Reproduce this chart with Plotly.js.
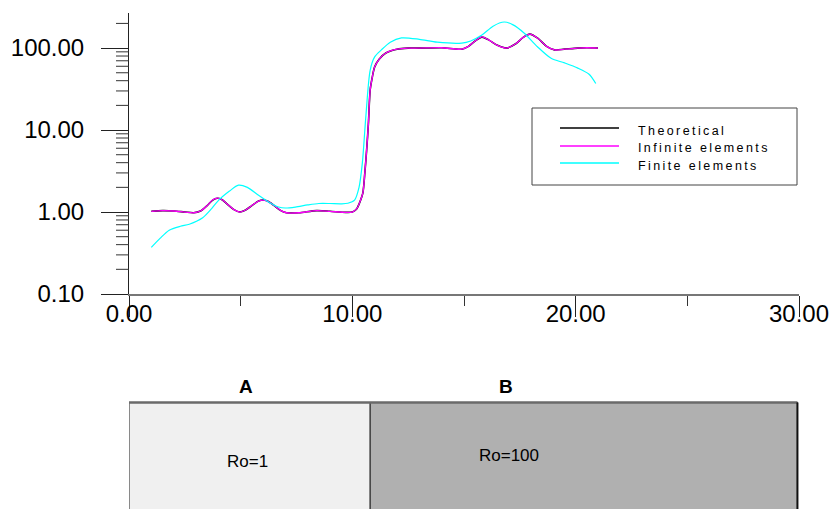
<!DOCTYPE html>
<html>
<head>
<meta charset="utf-8">
<script src="https://cdn.plot.ly/plotly-3.0.1.min.js"></script>
<style>html,body{margin:0;padding:0;background:#fff;}#chart{width:834px;height:509px;}</style>
</head>
<body>
<div id="chart"></div>
<script>
// ---- Data ----
var xTheo = [1, 1.5, 2, 2.5, 2.9, 3.2, 3.5, 3.75, 3.95, 4.15, 4.4, 4.7, 4.96, 5.2, 5.5, 5.8, 6.0, 6.2, 6.5, 6.8, 7.05, 7.6, 8.4, 9.0, 9.7, 10.0, 10.2, 10.35, 10.47, 10.56, 10.64, 10.72, 10.8, 10.9, 11.0, 11.2, 11.5, 12.0, 12.5, 13.0, 14.0, 14.9, 15.2, 15.5, 15.8, 16.1, 16.5, 16.9, 17.3, 17.65, 17.95, 18.3, 18.7, 19.05, 19.5, 20.1, 20.5, 21.0];
var yTheo = [1.02, 1.04, 1.03, 1.0, 0.98, 1.03, 1.2, 1.40, 1.47, 1.42, 1.25, 1.07, 1.0, 1.05, 1.2, 1.36, 1.40, 1.36, 1.2, 1.04, 0.98, 0.98, 1.04, 1.02, 0.99, 1.0, 1.1, 1.35, 1.7, 3.0, 5.7, 12, 31, 45, 59, 73, 87, 97, 100, 100, 101, 97, 105, 122, 136, 126, 108, 100, 112, 135, 148, 132, 105, 95, 97, 100, 101, 100];

var xInf = xTheo.slice();
var yInf = [1.02, 1.04, 1.03, 1.0, 0.98, 1.03, 1.2, 1.41, 1.48, 1.42, 1.25, 1.07, 1.0, 1.05, 1.2, 1.36, 1.40, 1.36, 1.2, 1.04, 0.98, 0.98, 1.04, 1.02, 0.99, 1.0, 1.1, 1.35, 1.7, 3.0, 5.7, 12, 31, 45, 59, 73, 87, 97, 100, 100, 101, 97, 105, 122, 137, 126, 108, 100, 112, 135, 148, 132, 105, 95, 97, 100, 101, 100];

var xFin = [1, 1.4, 1.8, 2.3, 2.7, 3.3, 3.7, 4.0, 4.5, 4.9, 5.3, 5.8, 6.3, 6.7, 7.0, 7.45, 8.0, 8.5, 9.0, 9.5, 9.8, 10.1, 10.3, 10.45, 10.6, 10.8, 11.0, 11.3, 11.7, 12.2, 13.0, 13.8, 14.9, 15.3, 15.8, 16.3, 16.8, 17.2, 17.7, 18.3, 18.9, 19.5, 20.1, 20.6, 20.9];
var yFin = [0.37, 0.48, 0.60, 0.67, 0.71, 0.85, 1.1, 1.38, 1.8, 2.13, 2.0, 1.6, 1.3, 1.15, 1.12, 1.15, 1.22, 1.27, 1.27, 1.26, 1.28, 1.4, 2.0, 4.0, 14, 54, 78, 95, 118, 133, 128, 118, 115, 122, 144, 185, 208, 192, 152, 103, 75, 66, 57, 48, 37];

var seriesNames = ['Theoretical', 'Infinite elements', 'Finite elements'];
var seriesColors = ['#000000', '#ff00ff', '#00ffff'];

var xTickVals = [0, 10, 20, 30];
var yTickVals = [0.1, 1, 10, 100];

var zoneNames = ['A', 'B'];
var zoneStart = [0, 10.8];
var zoneEnd = [10.8, 29.93];
var zoneLabels = ['Ro=1', 'Ro=100'];
var zoneFills = ['#f0f0f0', '#b0b0b0'];

// ---- Geometry helpers (pixel -> paper) ----
var W = 834, H = 509;
var M = {l: 129, r: 35, t: 13, b: 215};
var PW = W - M.l - M.r, PH = H - M.t - M.b;
function px(x) { return (x - M.l) / PW; }
function py(y) { return (H - M.b - y) / PH; }

var FONT = '"Liberation Sans", Arial, sans-serif';

var traces = [
  {x: xTheo, y: yTheo, name: seriesNames[0], mode: 'lines', line: {color: seriesColors[0], width: 1.6, shape: 'spline', smoothing: 0.8}},
  {x: xInf, y: yInf, name: seriesNames[1], mode: 'lines', line: {color: seriesColors[1], width: 1.3, shape: 'spline', smoothing: 0.8}},
  {x: xFin, y: yFin, name: seriesNames[2], mode: 'lines', line: {color: seriesColors[2], width: 1.2, shape: 'spline', smoothing: 0.8}}
];

var shapes = [];
var annotations = [];

// minor ticks of the log axis (2..9 in each decade), drawn at their data values
var yTop = Math.pow(10, 2.428);
[0.1, 1, 10, 100].forEach(function (d) {
  for (var m = 2; m <= 9; m++) {
    var v = d * m;
    if (v > yTop) continue;
    shapes.push({type: 'line', xref: 'paper', yref: 'y', x0: -13 / PW, x1: 0, y0: v, y1: v,
      line: {color: '#333', width: 1}});
  }
});

// legend box
shapes.push({type: 'rect', xref: 'paper', yref: 'paper', x0: px(532), x1: px(797), y0: py(185), y1: py(108),
  line: {color: '#444', width: 1}, fillcolor: 'rgba(255,255,255,0)', layer: 'above'});
var legLineY = [128, 146, 163];
var legTextY = [131, 148, 166];
for (var i = 0; i < seriesNames.length; i++) {
  shapes.push({type: 'line', xref: 'paper', yref: 'paper', x0: px(560), x1: px(619), y0: py(legLineY[i]), y1: py(legLineY[i]),
    line: {color: seriesColors[i], width: i === 2 ? 1.6 : 1.3}});
  annotations.push({xref: 'paper', yref: 'paper', x: px(636), y: py(legTextY[i]), xanchor: 'left', yanchor: 'middle',
    text: '<span style="letter-spacing:2.4px">' + seriesNames[i] + '</span>', showarrow: false,
    font: {family: FONT, size: 12.5, color: '#000'}});
}

// zone boxes
var boxTop = py(402.5), boxBot = py(540);
for (var j = 0; j < zoneNames.length; j++) {
  shapes.push({type: 'rect', xref: 'x', yref: 'paper', x0: zoneStart[j], x1: zoneEnd[j], y0: boxBot, y1: boxTop,
    fillcolor: zoneFills[j], line: {color: '#222', width: 1}});
}
shapes.push({type: 'line', xref: 'x', yref: 'paper', x0: zoneStart[0], x1: zoneEnd[1], y0: boxTop, y1: boxTop,
  line: {color: '#6a6a6a', width: 2.5}});
shapes.push({type: 'line', xref: 'x', yref: 'paper', x0: zoneEnd[1], x1: zoneEnd[1], y0: boxBot, y1: boxTop,
  line: {color: '#111', width: 2}});

var zoneNameX = [5.25, 16.9];
var zoneLabelX = [5.3, 17.0];
var zoneLabelY = [462, 455];
for (var k = 0; k < zoneNames.length; k++) {
  annotations.push({xref: 'x', yref: 'paper', x: zoneNameX[k], y: py(386), xanchor: 'center', yanchor: 'middle',
    text: '<b>' + zoneNames[k] + '</b>', showarrow: false, font: {family: FONT, size: 19, color: '#000'}});
  annotations.push({xref: 'x', yref: 'paper', x: zoneLabelX[k], y: py(zoneLabelY[k]), xanchor: 'center', yanchor: 'middle',
    text: zoneLabels[k], showarrow: false, font: {family: '"Liberation Sans Narrow", "Liberation Sans", Arial, sans-serif', size: 17, color: '#000'}});
}

var layout = {
  width: W, height: H,
  margin: M,
  paper_bgcolor: '#fff', plot_bgcolor: '#fff',
  showlegend: false,
  font: {family: FONT, color: '#000'},
  xaxis: {
    range: [0, 30], tickvals: xTickVals, tickformat: '.2f',
    ticks: 'outside', ticklen: 21, tickwidth: 1, tickcolor: '#222',
    showline: true, linecolor: '#777', linewidth: 2, mirror: false,
    showgrid: false, zeroline: false,
    minor: {ticks: 'outside', ticklen: 10, tickwidth: 1, tickcolor: '#333', dtick: 5, tick0: 0, showgrid: false},
    tickfont: {family: FONT, size: 24, color: '#000'},
    ticklabelstandoff: -24
  },
  yaxis: {
    type: 'log', range: [-1, 2.428], tickvals: yTickVals, tickformat: '.2f',
    ticks: 'outside', ticklen: 27, tickwidth: 1, tickcolor: '#222',
    showline: true, linecolor: '#222', linewidth: 1,
    showgrid: false, zeroline: false,
    tickfont: {family: FONT, size: 24, color: '#000'},
    ticklabelstandoff: 12
  },
  shapes: shapes,
  annotations: annotations
};

Plotly.newPlot('chart', traces, layout, {displayModeBar: false, staticPlot: true});
</script>
</body>
</html>
